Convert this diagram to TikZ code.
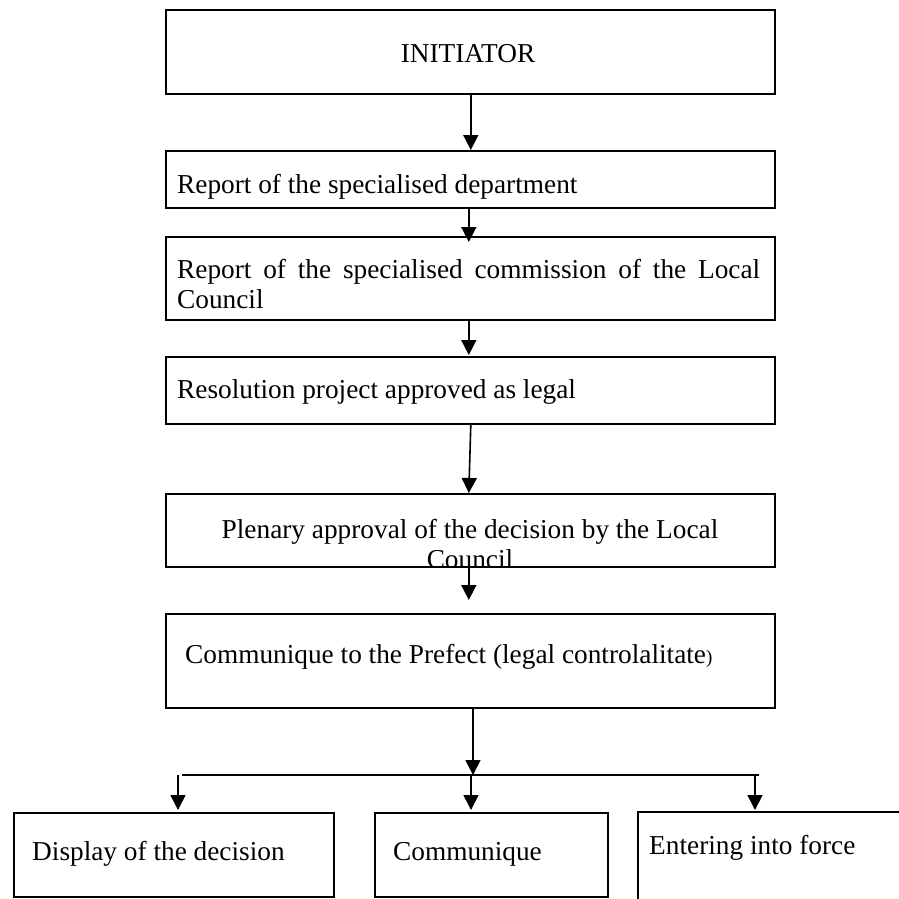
\documentclass[tikz,border=0pt]{standalone}
\usepackage{fontspec}
\setmainfont{Liberation Serif}
\usetikzlibrary{arrows.meta}
\begin{document}
\begin{tikzpicture}[x=1pt,y=-1pt,
  box/.style={draw,line width=1.6pt,rectangle,inner sep=0pt,anchor=north west},
  lbl/.style={inner sep=0pt,anchor=base west,font=\fontsize{27.3}{30}\selectfont},
  conn/.style={line width=1.6pt},
  arr/.style={line width=1.6pt,-{Triangle[width=15pt,length=15pt]}}]
\useasboundingbox (0,0) rectangle (899,898);
\fill[white] (0,0) rectangle (899,898);
\begin{scope}
\clip (0,0) rectangle (899,898);
% boxes
\node[box,minimum width=609pt,minimum height=84pt] (b1) at (165,9) {};
\node[box,minimum width=609pt,minimum height=57pt] (b2) at (165,150) {};
\node[box,minimum width=609pt,minimum height=83pt] (b3) at (165,236) {};
\node[box,minimum width=609pt,minimum height=67pt] (b4) at (165,356) {};
\node[box,minimum width=609pt,minimum height=73pt] (b5) at (165,493) {};
\node[box,minimum width=609pt,minimum height=94pt] (b6) at (165,613) {};
\node[box,minimum width=320pt,minimum height=84pt] (bA) at (13,812) {};
\node[box,minimum width=233pt,minimum height=84pt] (bB) at (374,812) {};
\node[box,minimum width=300pt,minimum height=120pt] (bC) at (637,811) {};
% texts
\node[lbl,anchor=base] (t1) at (468,62) {INITIATOR};
\node[lbl] (t2) at (177,193) {Report of the specialised department};
\node[lbl,text width=583pt,align=justify] (t3) at (177,278) {Report of the specialised commission of the Local\linebreak Council};
\node[lbl] (t4) at (177,398) {Resolution project approved as legal};
\begin{scope}
\clip (b5.north west) rectangle (b5.south east);
\node[lbl,anchor=base,align=center] (t5) at (470,568) {Plenary approval of the decision by the Local\\Council};
\end{scope}
\node[lbl] (t6) at (185,663) {Communique to the Prefect (legal controlalitate{\fontsize{19}{20}\selectfont)}};
\node[lbl] (tA) at (32,860) {Display of the decision};
\node[lbl] (tB) at (393,860) {Communique};
\node[lbl] (tC) at (649,854) {Entering into force};
% connectors
\draw[arr] ([xshift=0.5pt]b1.south) -- ([xshift=0.5pt]b2.north);
\draw[arr] ([xshift=-1.5pt]b2.south) -- ([xshift=-1.5pt,yshift=-6pt]b3.north);
\draw[arr] ([xshift=-1.5pt]b3.south) -- ([xshift=-1.5pt,yshift=1pt]b4.north);
\draw[arr] ([xshift=0.5pt]b4.south) -- ([xshift=-1.5pt]b5.north);
\draw[arr] ([xshift=-1.5pt]b5.south) -- ([xshift=-1.5pt,yshift=13pt]b6.north);
\coordinate (j) at (473,775);
\draw[arr] (b6.south -| j) -- (j);
\coordinate (hl) at (182,775);
\coordinate (hr) at (759,775);
\draw[conn] (hl) -- (hr);
\coordinate (dA) at (178,775);
\coordinate (dB) at (471,775);
\coordinate (dC) at (755,775);
\draw[arr] (dA) -- ([yshift=2pt]dA |- bA.north);
\draw[arr] (dB) -- ([yshift=2pt]dB |- bB.north);
\draw[arr] (dC) -- ([yshift=1pt]dC |- bC.north);
\end{scope}
\end{tikzpicture}
\end{document}
